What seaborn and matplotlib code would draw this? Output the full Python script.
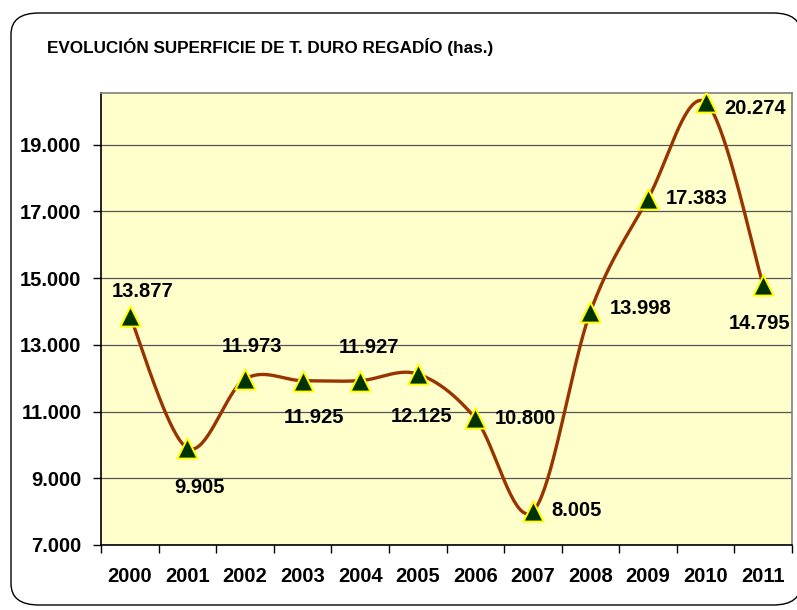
import matplotlib
matplotlib.use("Agg")
import matplotlib.pyplot as plt
from matplotlib.patches import FancyBboxPatch
import numpy as np
import seaborn as sns

# data
years = ["2000", "2001", "2002", "2003", "2004", "2005",
         "2006", "2007", "2008", "2009", "2010", "2011"]
hectares = [13877, 9905, 11973, 11925, 11927, 12125,
            10800, 8005, 13998, 17383, 20274, 14795]
yticks = [7000, 9000, 11000, 13000, 15000, 17000, 19000]
# label offsets in pixels (dx, dy)
label_offsets = [(13, 24), (12, -39), (7, 33), (11, -37), (9, 33), (4, -42),
                 (50, 0), (44, 1), (50, 3), (49, 0), (49, -6), (-4, -39)]

title = "EVOLUCIÓN SUPERFICIE DE T. DURO REGADÍO (has.)"

sns.set_theme(style="white")
plt.rcParams["font.family"] = ["Liberation Sans", "DejaVu Sans"]
plt.rcParams["font.weight"] = "bold"
plt.rcParams["text.color"] = "black"


def fmt(v):
    return f"{v:,}".replace(",", ".")


def smooth_curve(xp, yp, n=40):
    """Excel-like smoothed line (Catmull-Rom through the points)."""
    pts = np.column_stack([xp, yp])
    ext = np.vstack([pts[0], pts, pts[-1]])
    out = []
    t = np.linspace(0, 1, n)[:, None]
    for i in range(len(pts) - 1):
        p0, p1, p2, p3 = ext[i], ext[i + 1], ext[i + 2], ext[i + 3]
        c1 = p1 + (p2 - p0) / 6
        c2 = p2 - (p3 - p1) / 6
        seg = ((1 - t) ** 3 * p1 + 3 * (1 - t) ** 2 * t * c1
               + 3 * (1 - t) * t ** 2 * c2 + t ** 3 * p2)
        out.append(seg if i == 0 else seg[1:])
    return np.vstack(out)


fig = plt.figure(figsize=(7.97, 6.10), dpi=100)
frame = FancyBboxPatch((11 / 797, 5 / 610), 790 / 797, 592 / 610,
                       boxstyle="round,pad=0,rounding_size=0.035",
                       transform=fig.transFigure, facecolor="white",
                       edgecolor="black", linewidth=1.0, zorder=-10)
fig.patches.append(frame)

ax = fig.add_axes([101 / 797, 65 / 610, 691 / 797, 452 / 610])
ax.set_facecolor("#FFFFCC")

xpos = np.arange(len(years))
ax.set_xlim(-0.5, len(years) - 0.5)
ax.set_ylim(7000, 20550)

# smooth in pixel-like space so the shape matches the screen curve
px_per_x = 57.6
px_per_y = 66.7 / 2000
curve = smooth_curve(xpos * px_per_x, np.array(hectares) * px_per_y)
sns.lineplot(x=curve[:, 0] / px_per_x, y=curve[:, 1] / px_per_y, ax=ax,
             sort=False, color="#993300", linewidth=2.4, zorder=3)
sns.scatterplot(x=xpos, y=hectares, ax=ax, marker="^", s=210,
                color="#003300", edgecolor="#FFFF00", linewidth=1.4,
                zorder=4)

for x, v, (dx, dy) in zip(xpos, hectares, label_offsets):
    ax.annotate(fmt(v), (x, v), xytext=(dx, dy), textcoords="offset pixels",
                ha="center", va="center", fontsize=14.5, fontweight="bold",
                color="black", zorder=5)

ax.set_yticks(yticks)
ax.set_yticklabels([fmt(v) for v in yticks])
ax.yaxis.grid(True, color="#555555", linewidth=0.9)
ax.set_axisbelow(True)

ax.set_xticks(np.arange(-0.5, len(years), 1.0))
ax.set_xticklabels([])
ax.set_xticks(xpos, minor=True)
ax.set_xticklabels(years, minor=True)
ax.tick_params(axis="x", which="major", direction="out", length=6,
               width=1, color="black", bottom=True)
ax.tick_params(axis="x", which="minor", length=0, pad=16, labelsize=14.5,
               labelcolor="black")
ax.tick_params(axis="y", direction="out", length=6, width=1, color="black",
               left=True, pad=8, labelsize=14.5, labelcolor="black")

for side in ["top", "right"]:
    ax.spines[side].set_color("#808080")
    ax.spines[side].set_linewidth(1.2)
for side in ["left", "bottom"]:
    ax.spines[side].set_color("black")
    ax.spines[side].set_linewidth(1.2)

fig.text(270 / 797, 1 - 47 / 610, title, ha="center", va="center",
         fontsize=12.3, fontweight="bold", color="black")

fig.savefig("out.png", dpi=100)
